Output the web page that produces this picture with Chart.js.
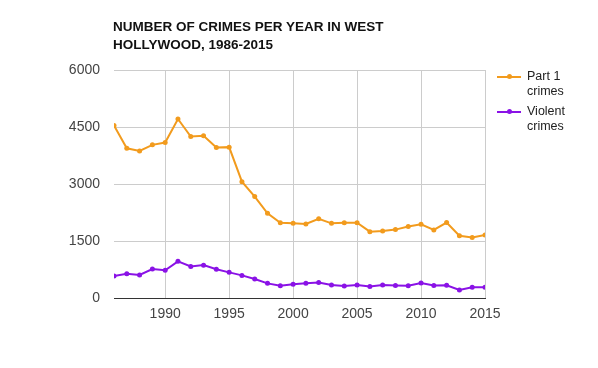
<!DOCTYPE html>
<html>
<head>
<meta charset="utf-8">
<script src="https://cdn.jsdelivr.net/npm/chart.js@4"></script>
<style>
  body { margin: 0; background: #fff; }
  #wrap { position: relative; width: 598px; height: 368px; }
  #title { position: absolute; left: 113px; top: 18px; font: bold 13.5px "Liberation Sans", Arial, sans-serif; color: #111; line-height: 18px; }
  #legend { position: absolute; left: 497px; top: 69px; font: 12.5px "Liberation Sans", Arial, sans-serif; color: #222; }
  .item { display: flex; align-items: flex-start; margin-bottom: 5px; }
  .swatch { position: relative; width: 24px; height: 2px; margin: 6.5px 6px 0 0; flex: none; }
  .swatch i { position: absolute; left: 10px; top: -1.5px; width: 5px; height: 5px; border-radius: 50%; }
  .txt { width: 60px; line-height: 15px; }
</style>
</head>
<body>
<div id="wrap">
  <div id="title">NUMBER OF CRIMES PER YEAR IN WEST<br>HOLLYWOOD, 1986-2015</div>
  <canvas id="chart" width="598" height="368"></canvas>
  <div id="legend"></div>
</div>
<script>
const years = [1986, 1987, 1988, 1989, 1990, 1991, 1992, 1993, 1994, 1995,
               1996, 1997, 1998, 1999, 2000, 2001, 2002, 2003, 2004, 2005,
               2006, 2007, 2008, 2009, 2010, 2011, 2012, 2013, 2014, 2015];
const part1 = [4540, 3940, 3870, 4030, 4090, 4710, 4250, 4270, 3960, 3970,
               3060, 2670, 2230, 1980, 1965, 1950, 2085, 1965, 1980, 1980,
               1745, 1765, 1800, 1880, 1940, 1790, 1985, 1640, 1595, 1660];
const violent = [580, 640, 605, 760, 730, 965, 830, 865, 755, 675,
                 595, 500, 385, 325, 360, 385, 410, 340, 315, 340,
                 300, 340, 330, 325, 395, 330, 335, 210, 280, 280];
const seriesNames = ['Part 1 crimes', 'Violent crimes'];
const colors = ['#f29b1d', '#8a12e6'];
const xTicks = [1990, 1995, 2000, 2005, 2010, 2015];
const yTicks = [0, 1500, 3000, 4500, 6000];

const tickFont = { family: '"Liberation Sans", Arial, sans-serif', size: 14 };

const ctx = document.getElementById('chart').getContext('2d');
new Chart(ctx, {
    type: 'line',
    data: {
        datasets: [part1, violent].map((vals, i) => ({
            label: seriesNames[i],
            data: vals.map((v, j) => ({ x: years[j], y: v })),
            borderColor: colors[i],
            backgroundColor: colors[i],
            borderWidth: 2,
            pointRadius: 2.5,
            pointBorderWidth: 0,
            tension: 0
        }))
    },
    options: {
        responsive: false,
        animation: false,
        layout: { padding: { left: 0, right: 113, top: 70, bottom: 30 } },
        plugins: { legend: { display: false }, tooltip: { enabled: false } },
        scales: {
            x: {
                type: 'linear',
                min: 1986, max: 2015,
                afterBuildTicks: s => { s.ticks = xTicks.map(v => ({ value: v })); },
                afterFit: s => { s.height = 40; },
                grid: { color: '#cccccc', drawTicks: false },
                border: { display: true, color: '#333333', width: 1 },
                ticks: { color: '#444', font: tickFont, padding: 8, maxRotation: 0,
                         callback: v => String(v) }
            },
            y: {
                min: 0, max: 6000,
                afterBuildTicks: s => { s.ticks = yTicks.map(v => ({ value: v })); },
                afterFit: s => { s.width = 114; },
                grid: { color: c => c.tick && c.tick.value === 0 ? '#333333' : '#cccccc', drawTicks: false },
                border: { display: false },
                ticks: { color: '#444', font: tickFont, padding: 14, callback: v => String(v) }
            }
        }
    }
});

// legend with wrapped labels
const legend = document.getElementById('legend');
seriesNames.forEach((name, i) => {
    const item = document.createElement('div');
    item.className = 'item';
    item.innerHTML = '<div class="swatch" style="background:' + colors[i] + '"><i style="background:' + colors[i] + '"></i></div>' +
                     '<div class="txt">' + name + '</div>';
    legend.appendChild(item);
});
</script>
</body>
</html>
